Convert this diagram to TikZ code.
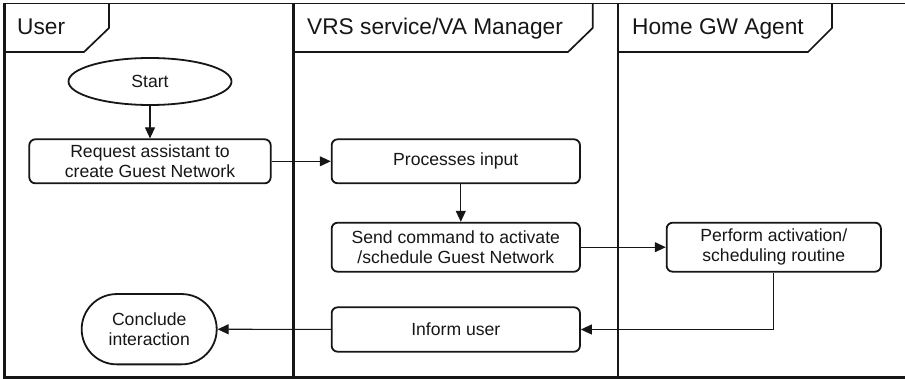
\documentclass[tikz,border=0pt]{standalone}
\usepackage{fontspec}
\setmainfont{Liberation Sans}
\usetikzlibrary{shapes.geometric,arrows.meta}
\definecolor{ink}{HTML}{161616}
\tikzset{
  box/.style={draw=ink, line width=1.8pt, rectangle, rounded corners=6pt, inner sep=0pt, align=center,
    font=\fontsize{17.6}{20}\selectfont, text=ink},
  lane/.style={draw=ink, line width=2.4pt},
  tab/.style={draw=ink, line width=1.7pt},
  head/.style={anchor=base west, inner sep=0pt, font=\fontsize{22.7}{26}\selectfont, text=ink},
  conn/.style={draw=ink, line width=1.1pt, -{Triangle[length=11pt,width=10pt]}}
}
\begin{document}
\begin{tikzpicture}[x=1pt,y=-1pt]
\useasboundingbox (0,0) rectangle (905,379);
% frame
\draw[draw=ink, line width=1.5pt] (3.5,3.5) -- (905,3.5);
\draw[lane] (4.5,3) -- (4.5,377.3) -- (905,377.3);
\draw[lane] (293.5,3) -- (293.5,377.3);
\draw[lane] (618,3) -- (618,377.3);
% tabs
\draw[tab] (109,3.5) -- (109,28) -- (84,52) -- (4.5,52);
\draw[tab] (592.7,3.5) -- (592.7,28) -- (568,52) -- (293.5,52);
\draw[tab] (832,3.5) -- (832,28) -- (808,52) -- (618,52);
\node[head] (hUser) at (17,35) {User};
\node[head] (hVRS) at (307,35) {VRS service/VA Manager};
\node[head] (hGW) at (632,35) {Home GW Agent};
% nodes
\node[box, ellipse, rounded corners=0pt, minimum width=163pt, minimum height=47pt] (start) at (150,81.5) {Start};
\node[box, minimum width=241.4pt, minimum height=44pt] (req) at (150,161.3) {Request assistant to\\create Guest Network};
\node[box, minimum width=248.3pt, minimum height=44pt] (proc) at (455.8,161.3) {Processes input};
\node[box, minimum width=248.3pt, minimum height=49pt] (send) at (455.8,247.2) {Send command to activate\\/schedule Guest Network};
\node[box, minimum width=214.3pt, minimum height=49pt] (perf) at (773.8,247.2) {Perform activation/\\scheduling routine};
\node[box, minimum width=248.3pt, minimum height=44.4pt] (inform) at (455.8,329.5) {Inform user};
\node[box, rounded corners=35pt, minimum width=135pt, minimum height=70.3pt] (conc) at (149.2,329.2) {Conclude\\interaction};
% connectors
\draw[conn] (start) -- (req);
\draw[conn] (req) -- (proc);
\draw[conn] ([xshift=5pt]proc.south) -- ([xshift=5pt]send.north);
\draw[conn] (send) -- (perf);
\draw[conn] (perf.south) |- (inform.east);
\draw[conn] (inform) -- (conc);
\end{tikzpicture}
\end{document}
